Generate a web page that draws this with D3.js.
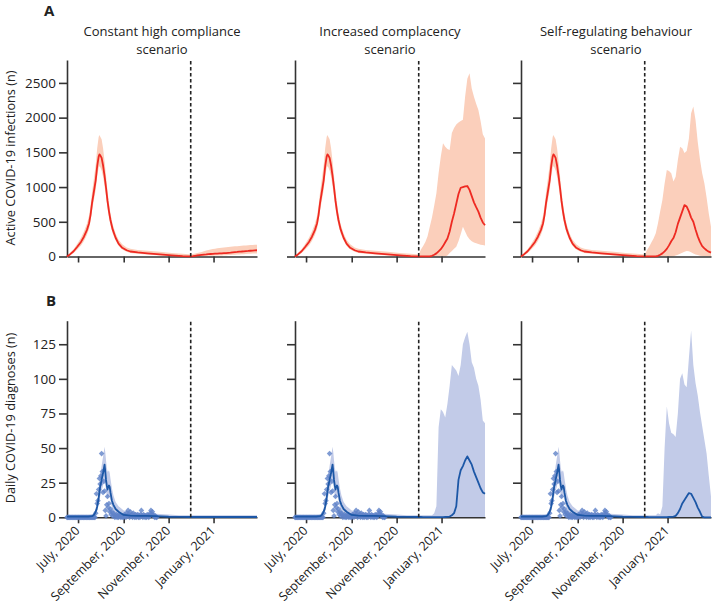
<!DOCTYPE html>
<html>
<head>
<meta charset="utf-8">
<script src="https://cdn.jsdelivr.net/npm/d3@7"></script>
<style>
  body { margin: 0; background: #fff; }
  text { font-family: "Open Sans", "Noto Sans", sans-serif; fill: #222; }
</style>
</head>
<body>
<script>
// ---------------- DATA ----------------
const scenarios = ["Constant high compliance\nscenario", "Increased complacency\nscenario", "Self-regulating behaviour\nscenario"];
const xTickDates = ["2020-07-01", "2020-09-01", "2020-11-01", "2021-01-01"];
const xTickLabels = ["July, 2020", "September, 2020", "November, 2020", "January, 2021"];
const interventionDate = "2020-12-01";
const infTicks = [0, 500, 1000, 1500, 2000, 2500];
const diagTicks = [0, 25, 50, 75, 100, 125];

// Active infections, common to all scenarios before December 2020
const infPreDates = ["2020-06-16","2020-06-20","2020-06-25","2020-06-30","2020-07-05","2020-07-09","2020-07-13","2020-07-16","2020-07-18","2020-07-20","2020-07-22","2020-07-25","2020-07-27","2020-07-29","2020-07-30","2020-07-31","2020-08-02","2020-08-04","2020-08-06","2020-08-08","2020-08-10","2020-08-12","2020-08-14","2020-08-17","2020-08-21","2020-08-25","2020-08-30","2020-09-05","2020-09-10","2020-09-20","2020-10-03","2020-10-20","2020-11-05","2020-11-20","2020-12-01"];
const infPreMean = [0,30,75,140,210,285,380,480,600,770,900,1100,1300,1440,1470,1460,1420,1310,1160,990,800,650,526,390,270,185,125,90,72,58,45,30,16,6,2];
const infPreHigh = [10,50,105,185,270,360,470,590,730,920,1080,1320,1560,1720,1750,1730,1690,1560,1370,1160,940,770,620,465,330,240,175,130,110,95,82,68,52,38,28];
const infPreLow  = [0,15,50,100,160,225,310,400,510,660,780,960,1150,1280,1300,1290,1240,1150,1010,860,690,555,450,330,230,155,100,68,52,40,28,16,6,1,0];

// Scenario period (from December 2020)
const postDates = ["2020-12-01","2020-12-04","2020-12-07","2020-12-10","2020-12-13","2020-12-16","2020-12-19","2020-12-22","2020-12-25","2020-12-28","2020-12-31","2021-01-03","2021-01-06","2021-01-09","2021-01-12","2021-01-15","2021-01-18","2021-01-21","2021-01-24","2021-01-27","2021-01-30","2021-02-02","2021-02-05","2021-02-08","2021-02-11","2021-02-14","2021-02-17","2021-02-20","2021-02-23","2021-02-26","2021-03-01"];

const infConstMean = [2,5,10,15,20,24,28,30,33,36,38,40,42,44,46,48,50,53,56,60,63,66,70,72,75,78,80,83,86,88,90];
const infConstHigh = [28,35,42,50,58,66,75,85,92,100,108,113,118,122,126,130,133,137,140,143,146,149,152,155,158,160,162,164,166,168,170];
const infConstLow  = [0,0,0,2,4,6,8,9,10,11,12,13,14,15,16,17,18,20,22,24,26,28,30,32,34,36,38,40,42,44,45];

const infComplMean = [2,2,1,1,2,3,10,25,45,75,105,150,205,260,360,500,620,760,900,990,1000,1010,1015,960,870,780,710,646,560,490,450];
const infComplHigh = [60,100,150,210,290,430,560,730,910,1200,1440,1630,1580,1550,1535,1780,1850,1900,1930,1950,1970,2300,2560,2640,2420,2300,2200,2110,1950,1760,1700];
const infComplLow  = [0,0,0,0,0,0,0,0,0,0,0,0,0,15,50,80,110,141,220,320,430,360,290,250,220,200,190,180,170,165,160];

const infSelfMean = [2,2,1,1,2,3,10,25,45,75,110,160,220,265,350,470,560,650,740,720,650,560,500,390,290,210,150,118,90,70,55];
const infSelfHigh = [50,90,140,200,260,334,480,650,814,1050,1246,1230,1200,1080,1150,1390,1580,1560,1490,1520,1700,2063,2159,1967,1650,1400,1200,1055,850,620,430];
const infSelfLow  = [0,0,0,0,0,0,0,0,0,0,0,0,0,5,15,25,40,55,70,80,75,60,45,30,20,12,8,5,3,2,1];

// Daily diagnoses, common before December 2020
const diagPreDates = ["2020-06-16","2020-07-01","2020-07-15","2020-07-20","2020-07-22","2020-07-24","2020-07-26","2020-07-27","2020-07-29","2020-07-31","2020-08-02","2020-08-04","2020-08-06","2020-08-07","2020-08-08","2020-08-09","2020-08-10","2020-08-11","2020-08-12","2020-08-13","2020-08-14","2020-08-16","2020-08-18","2020-08-21","2020-08-25","2020-09-01","2020-09-10","2020-09-20","2020-10-01","2020-10-15","2020-11-01","2020-11-15","2020-12-01"];
const diagPreMean = [0.5,0.5,0.5,0.8,1.5,3,5.5,7.7,14,22,27,32,38,33,27,23,20,22,23,22,18,12,9,6,4,1.7,1.2,1,1,0.8,0.4,0.3,0.2];
const diagPreHigh = [1.5,1.5,1.5,2,3,5,9,12,20,30,37,44,51,47,41,36,33,33,34,32,28,21,16,11,8,5,4,3.5,3,2.5,2,1.5,1.5];
const diagPreLow  = [0,0,0,0,0.5,1.5,3,4.5,9,15,19,23,28,24,19,16,14,15,16,15,12,7,5,3,2,0.5,0.3,0.2,0.2,0.1,0,0,0];

const diagConstMean = [0.2,0.2,0.2,0.2,0.2,0.2,0.2,0.2,0.2,0.2,0.2,0.2,0.2,0.2,0.2,0.2,0.2,0.2,0.2,0.2,0.2,0.2,0.2,0.2,0.2,0.2,0.2,0.2,0.2,0.2,0.2];
const diagConstHigh = [1.5,1.5,1.5,1.5,1.5,1.5,1.5,1.5,1.5,1.5,1.5,1.5,1.5,1.5,1.5,1.5,1.5,1.5,1.5,1.5,1.5,1.5,1.5,1.5,1.5,1.5,1.5,1.5,1.5,1.5,1.5];
const diagConstLow  = [0,0,0,0,0,0,0,0,0,0,0,0,0,0,0,0,0,0,0,0,0,0,0,0,0,0,0,0,0,0,0];

const diagComplMean = [0.2,0.2,0.1,0.1,0.1,0.1,0.1,0.1,0.1,0.1,0.1,0.1,0.2,0.3,0.5,1.5,3,8,27,34,37,41,44,41,38,33,29,25,21,18,17];
const diagComplHigh = [1.5,1.5,1.5,1.5,1.5,1.5,1.5,3,8,65,78,76,72,82,95,110,108,106,102,110,125,130,134,125,112,108,100,95,85,70,68];
const diagComplLow  = [0,0,0,0,0,0,0,0,0,0,0,0,0,0,0,0,0,0,0,0,0,0,0,0,0,0,0,0,0,0,0];

const diagSelfMean = [0.2,0.2,0.1,0.1,0.1,0.1,0.1,0.1,0.1,0.1,0.1,0.2,0.3,0.5,1,3,6,10,12.5,15,17.5,17,14,11,7,4,0.5,0,0,0,0];
const diagSelfHigh = [1.5,1.5,1.5,1.5,1.5,1.5,3,2,8,50,80,68,61,60,58,75,100,104,96,94,115,135,110,97,88,76,66,56,46,30,15];
const diagSelfLow  = [0,0,0,0,0,0,0,0,0,0,0,0,0,0,0,0,0,0,0,0,0,0,0,0,0,0,0,0,0,0,0];

// Observed daily diagnoses from 16 June 2020, one value per day
const obsStart = "2020-06-16";
const obsValues = [0,0,0,0,0,0,0,0,0,0,0,0,0,0,0,0,0,0,0,0,0,0,0,0,0,0,0,0,0,0,0,0,0,0,0,0,0,0,0,
  3,17,10,12,20,28,24,30,46,33,18,26,19,5,1,9,15,7,10,4,6,2,4,1,3,2,0,1,2,0,1,0,2,1,0,1,0,1,0,2,1,0,3,1,5,2,0,4,1,2,0,3,1,0,2,0,1,2,0,1,0,2,5,1,0,2,1,0,1,0,2,1,0,1,3,5,2,4,2,1,0,1,0,0];

// ---------------- DRAWING ----------------
const parse = d3.timeParse("%Y-%m-%d");
const W = 713, H = 605;
const panelX = [67, 295, 521];
const panelW = 190;
const topY = {bottom: 256.5, top: 60, max: 2830};
const botY = {bottom: 517.3, top: 320.7, max: 142};

const RED = "#ee2a22", RED_BAND = "#fbcfbb";
const BLUE = "#1c57a6", BLUE_BAND = "#c2cbe8", PT = "#5f82c8";
const AX = "#333";

const svg = d3.select("body").append("svg").attr("width", W).attr("height", H);

const x = d3.scaleTime().domain([parse("2020-06-16"), parse("2021-03-01")]).range([0, panelW]);
const yTop = d3.scaleLinear().domain([0, topY.max]).range([topY.bottom, topY.top]);
const yBot = d3.scaleLinear().domain([0, botY.max]).range([botY.bottom, botY.top]);

function rows(dates, mean, low, high) {
  return dates.map((d, i) => ({date: parse(d), mean: mean[i], low: low[i], high: high[i]}));
}

const infPost = [[infConstMean, infConstLow, infConstHigh], [infComplMean, infComplLow, infComplHigh], [infSelfMean, infSelfLow, infSelfHigh]];
const diagPost = [[diagConstMean, diagConstLow, diagConstHigh], [diagComplMean, diagComplLow, diagComplHigh], [diagSelfMean, diagSelfLow, diagSelfHigh]];

const obs = obsValues.map((v, i) => ({date: d3.timeDay.offset(parse(obsStart), i), value: v}));

function drawPanel(px, y, ticks, pre, post, lineColor, bandColor, showYLabels, showXLabels, points) {
  const g = svg.append("g").attr("transform", `translate(${px},0)`);
  const data = pre.concat(post.slice(1));

  // band
  g.append("path").datum(data)
    .attr("fill", bandColor)
    .attr("d", d3.area().x(d => x(d.date)).y0(d => y(d.low)).y1(d => y(d.high)));

  // axes
  const yAxis = d3.axisLeft(y).tickValues(ticks).tickSize(8).tickSizeOuter(0).tickPadding(3)
    .tickFormat(showYLabels ? d3.format("d") : () => "");
  const ya = g.append("g").call(yAxis);
  ya.select(".domain").attr("stroke", AX).attr("stroke-width", 1.6);
  ya.selectAll(".tick line").attr("stroke", AX).attr("stroke-width", 1.6);
  ya.selectAll("text").style("font-size", "13.5px").attr("fill", "#222");

  const xAxis = d3.axisBottom(x).tickValues(xTickDates.map(parse)).tickSize(6).tickSizeOuter(0)
    .tickFormat((d, i) => showXLabels ? xTickLabels[i] : "");
  const xa = g.append("g").attr("transform", `translate(0,${y(0)})`).call(xAxis);
  xa.select(".domain").attr("stroke", AX).attr("stroke-width", 1.6);
  xa.selectAll(".tick line").attr("stroke", AX).attr("stroke-width", 1.6);
  xa.selectAll("text")
    .style("font-size", "12.5px").attr("fill", "#222")
    .attr("text-anchor", "end").attr("x", 0).attr("y", 0).attr("dy", "0.35em")
    .attr("transform", "translate(-1,11) rotate(-45)");

  // points
  if (points) {
    g.append("g").selectAll("path").data(points).join("path")
      .attr("transform", d => `translate(${x(d.date)},${y(d.value)}) rotate(45)`)
      .attr("d", d3.symbol().type(d3.symbolSquare).size(16))
      .attr("fill", PT).attr("fill-opacity", 0.8);
  }

  // line
  g.append("path").datum(data)
    .attr("fill", "none").attr("stroke", lineColor).attr("stroke-width", 1.8)
    .attr("stroke-linejoin", "round")
    .attr("d", d3.line().x(d => x(d.date)).y(d => y(d.mean)));

  // intervention line
  const xi = x(parse(interventionDate));
  g.append("line").attr("x1", xi).attr("x2", xi).attr("y1", y.range()[0]).attr("y2", y.range()[1])
    .attr("stroke", "#222").attr("stroke-width", 1.6).attr("stroke-dasharray", "3.5,2.5");
}

const infPre = rows(infPreDates, infPreMean, infPreLow, infPreHigh);
const diagPre = rows(diagPreDates, diagPreMean, diagPreLow, diagPreHigh);

scenarios.forEach((name, i) => {
  const ip = infPost[i], dp = diagPost[i];
  drawPanel(panelX[i], yTop, infTicks, infPre, rows(postDates, ip[0], ip[1], ip[2]), RED, RED_BAND, i === 0, false, null);
  drawPanel(panelX[i], yBot, diagTicks, diagPre, rows(postDates, dp[0], dp[1], dp[2]), BLUE, BLUE_BAND, i === 0, true, obs);

  const lines = name.split("\n");
  const t = svg.append("text").attr("x", panelX[i] + panelW / 2).attr("y", 36)
    .attr("text-anchor", "middle").style("font-size", "13px");
  lines.forEach((l, k) => t.append("tspan").attr("x", panelX[i] + panelW / 2).attr("dy", k === 0 ? 0 : "1.4em").text(l));
});

// panel letters
svg.append("text").attr("x", 44).attr("y", 16).style("font-size", "15px").style("font-weight", "bold").text("A");
svg.append("text").attr("x", 46).attr("y", 306).style("font-size", "15px").style("font-weight", "bold").text("B");

// y axis titles
svg.append("text").attr("transform", "translate(15,158) rotate(-90)").attr("text-anchor", "middle")
  .style("font-size", "12.7px").text("Active COVID-19 infections (n)");
svg.append("text").attr("transform", "translate(15,418) rotate(-90)").attr("text-anchor", "middle")
  .style("font-size", "12.7px").text("Daily COVID-19 diagnoses (n)");
</script>
</body>
</html>
